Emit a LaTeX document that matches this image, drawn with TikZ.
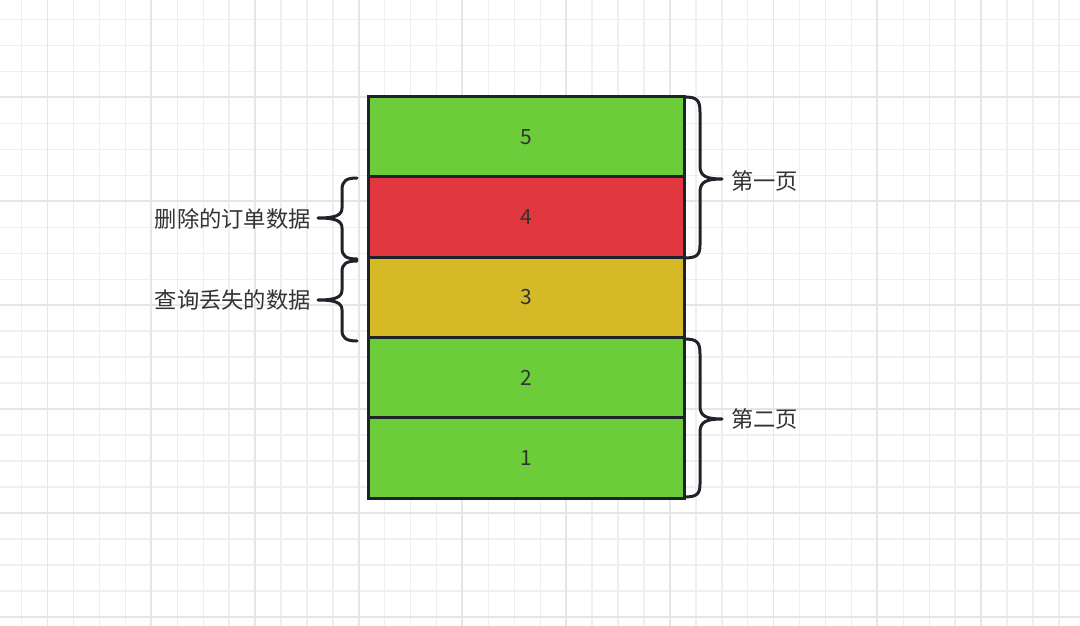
\documentclass[tikz,border=0pt]{standalone}
\usepackage{fontspec}
\setmainfont{Noto Sans CJK SC}
\definecolor{gridminor}{HTML}{EFEFEF}
\definecolor{gridmajor}{HTML}{E6E6E6}
\definecolor{rowgreen}{HTML}{6CCC39}
\definecolor{rowred}{HTML}{E1373F}
\definecolor{rowyellow}{HTML}{D5B927}
\definecolor{edge}{HTML}{1F2329}
\definecolor{txt}{HTML}{333333}
\begin{document}
\begin{tikzpicture}[x=1pt,y=-1pt,
  rowbox/.style={draw=edge,line width=3pt,minimum width=316pt,minimum height=80.3pt,inner sep=0pt,text=txt,font=\fontsize{21}{25}\selectfont},
  brace/.style={draw=edge,line width=3pt,line cap=round,line join=round},
  lbl/.style={text=txt,font=\fontsize{22.3}{26}\selectfont,inner sep=0pt}]
\useasboundingbox (0,0) rectangle (1080,626);
\fill[white] (0,0) rectangle (1080,626);
% grid
\foreach \i in {0,...,41} {\draw[gridminor,line width=1.4pt] ({21.7+\i*25.93},0) -- ({21.7+\i*25.93},626);}
\foreach \i in {0,...,24} {\draw[gridminor,line width=1.4pt] (0,{19.5+\i*25.97}) -- (1080,{19.5+\i*25.97});}
\foreach \i in {0,...,10} {\draw[gridmajor,line width=1.8pt] ({47.5+\i*103.72},0) -- ({47.5+\i*103.72},626);}
\foreach \i in {0,...,6} {\draw[gridmajor,line width=1.8pt] (0,{97.4+\i*103.88}) -- (1080,{97.4+\i*103.88});}
% rows
\node[rowbox,fill=rowgreen] (r5) at (526,136.65) {5};
\node[rowbox,fill=rowred] (r4) at (526,216.95) {4};
\node[rowbox,fill=rowyellow] (r3) at (526,297.25) {3};
\node[rowbox,fill=rowgreen] (r2) at (526,377.55) {2};
\node[rowbox,fill=rowgreen] (r1) at (526,457.85) {1};
% right braces
\draw[brace] (684,97) .. controls (697,97) and (700,100) .. (700,112) -- (700,166)
  .. controls (700,176) and (706,179) .. (722,179)
  .. controls (706,179) and (700,182) .. (700,192) -- (700,245)
  .. controls (700,255) and (697,258) .. (684,258);
\draw[brace] (684,339) .. controls (697,339) and (700,342) .. (700,354) -- (700,406)
  .. controls (700,416) and (706,419) .. (722,419)
  .. controls (706,419) and (700,422) .. (700,432) -- (700,484)
  .. controls (700,494) and (697,497) .. (684,497);
% left braces
\draw[brace] (357,178) .. controls (346,178) and (342,181) .. (342,190) -- (342,208)
  .. controls (342,215) and (336,218) .. (318,218)
  .. controls (336,218) and (342,221) .. (342,228) -- (342,248)
  .. controls (342,256) and (346,259) .. (357,259);
\draw[brace] (357,261) .. controls (346,261) and (342,264) .. (342,272) -- (342,290)
  .. controls (342,297) and (336,300) .. (318,300)
  .. controls (336,300) and (342,303) .. (342,310) -- (342,330)
  .. controls (342,338) and (346,341) .. (357,341);
% labels
\node[lbl,anchor=west] (p1) at (731,181) {第一页};
\node[lbl,anchor=west] (p2) at (731,419) {第二页};
\node[lbl,anchor=east] (d1) at (311,219) {删除的订单数据};
\node[lbl,anchor=east] (d2) at (311,300) {查询丢失的数据};
\end{tikzpicture}
\end{document}
